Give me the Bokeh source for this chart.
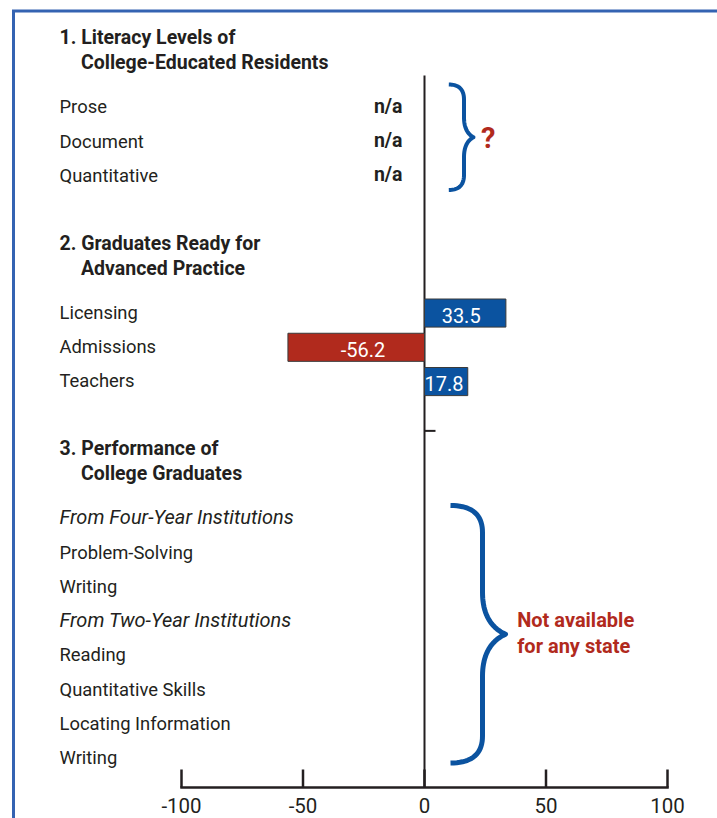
from bokeh.plotting import figure
from bokeh.models import Range1d, ColumnDataSource
from bokeh.core.properties import value
from bokeh.embed import file_html
from bokeh.resources import INLINE
import numpy as np

# ---------------- data ----------------
section_titles = [("1. Literacy Levels of", "College-Educated Residents"),
                  ("2. Graduates Ready for", "Advanced Practice"),
                  ("3. Performance of", "College Graduates")]
literacy_labels = ["Prose", "Document", "Quantitative"]
literacy_values = ["n/a", "n/a", "n/a"]
ready_labels = ["Licensing", "Admissions", "Teachers"]
ready_values = [33.5, -56.2, 17.8]
perf_labels = ["From Four-Year Institutions", "Problem-Solving", "Writing",
               "From Two-Year Institutions", "Reading", "Quantitative Skills",
               "Locating Information", "Writing"]
perf_subheads = ["From Four-Year Institutions", "From Two-Year Institutions"]
x_ticks = [-100, -50, 0, 50, 100]
literacy_note = "?"
perf_note = ["Not available", "for any state"]

# ---------------- styling ----------------
FONT = "Roboto"
TXT = "#231f20"
BLUE = "#0b53a0"
RED = "#b12a1d"
BORDER = "#3463b2"
FS = 19.5   # titles / values
FL = 18.4   # row labels

W, H = 717, 818
PXU = 2.43          # pixels per value unit
ROWPX = 34.25       # pixels per row


def X(px):  # image pixel -> value units (decoration only)
    return (px - 424) / PXU


def Y(py):  # image pixel -> row units (decoration only)
    return (py - 105) / ROWPX


def sh(size):  # baseline correction in row units
    return 0.38 * size / ROWPX


# rows: title, gap, items..., gap, title ...
row = -2
title_rows = []
title_rows.append(row); row += 2
lit_rows = list(range(row, row + len(literacy_labels))); row += len(literacy_labels) + 1
title_rows.append(row); row += 2
ready_rows = list(range(row, row + len(ready_labels))); row += len(ready_labels) + 1
title_rows.append(row); row += 2
perf_rows = list(range(row, row + len(perf_labels)))

p = figure(width=W, height=H, output_backend="svg", toolbar_location=None,
           x_range=Range1d(X(0), X(W)), y_range=Range1d(Y(H), Y(0)),
           x_axis_location=None, y_axis_location=None, min_border=0,
           outline_line_color=None, background_fill_color="white")
p.grid.visible = False

BASE = 0.245
LX = X(59)
LX2 = X(80.5)


def txt(xs, ys, texts, size=FS, style="normal", color=TXT, align="left"):
    p.text(x=list(xs), y=[y - sh(size) for y in ys], text=list(texts), text_font=value(FONT),
           text_font_size="%.1fpx" % size, text_font_style=style, text_color=color,
           text_align=align, text_baseline="alphabetic")


# border (top + left)
p.line([X(730), X(13), X(13)], [Y(10.5), Y(10.5), Y(840)], line_color=BORDER,
       line_width=3, line_join="miter")

# titles
for r, (t1, t2) in zip(title_rows, section_titles):
    txt([LX], [r + BASE], [t1], style="bold")
    txt([LX2], [r + BASE + 0.73], [t2], style="bold")

# labels
txt([LX] * len(lit_rows), [r + BASE for r in lit_rows], literacy_labels, size=FL)
txt([LX] * len(ready_rows), [r + BASE for r in ready_rows], ready_labels, size=FL)
norm = [(r, l) for r, l in zip(perf_rows, perf_labels) if l not in perf_subheads]
sub = [(r, l) for r, l in zip(perf_rows, perf_labels) if l in perf_subheads]
txt([LX] * len(norm), [r + BASE for r, _ in norm], [l for _, l in norm], size=FL)
txt([LX] * len(sub), [r + BASE for r, _ in sub], [l for _, l in sub], size=20, style="italic")

# n/a values
txt([X(402)] * len(lit_rows), [r + BASE for r in lit_rows], literacy_values,
    style="bold", align="right")

# zero line
p.segment(x0=[0], y0=[Y(75)], x1=[0], y1=[Y(787)], line_color=TXT, line_width=2)
p.segment(x0=[0], y0=[ready_rows[-1] + 1.5], x1=[X(435)], y1=[ready_rows[-1] + 1.5],
          line_color=TXT, line_width=2)

# bars
src = ColumnDataSource(dict(
    y=[r + 0.06 for r in ready_rows],
    left=[min(0, v) for v in ready_values],
    right=[max(0, v) for v in ready_values],
    color=[BLUE if v >= 0 else RED for v in ready_values],
))
p.hbar(y="y", left="left", right="right", height=0.82, fill_color="color",
       line_color="#3a3a3a", line_width=1, source=src)
txt([v * 0.45 for v in ready_values], [r + 0.06 + 0.28 for r in ready_rows],
    ["%.1f" % v for v in ready_values], size=20, color="white", align="center")

# x axis
p.segment(x0=[x_ticks[0]], y0=[Y(787)], x1=[x_ticks[-1]], y1=[Y(787)], line_color=TXT,
          line_width=2.5, line_cap="square")
p.segment(x0=x_ticks, y0=[Y(769)] * len(x_ticks), x1=x_ticks, y1=[Y(787)] * len(x_ticks),
          line_color=TXT, line_width=2.5)
txt(x_ticks, [Y(812.5)] * len(x_ticks), [str(t) for t in x_ticks], size=20.5, align="center")


# braces
def qbez(p0, c, p1, n=20):
    t = np.linspace(0, 1, n)[:, None]
    return (1 - t) ** 2 * np.array(p0) + 2 * (1 - t) * t * np.array(c) + t ** 2 * np.array(p1)


def brace(xe, xv, xt, yt, yb, r1, r2, w):
    ym = (yt + yb) / 2
    pts = [qbez((xe, yt), (xv, yt), (xv, yt + r1)),
           qbez((xv, ym - r2), (xv, ym - r2 * 0.25), (xt, ym)),
           qbez((xt, ym), (xv, ym + r2 * 0.25), (xv, ym + r2)),
           qbez((xv, yb - r1), (xv, yb), (xe, yb))]
    a = np.vstack(pts)
    p.line(X(a[:, 0]), Y(a[:, 1]), line_color=BLUE, line_width=w, line_cap="butt",
           line_join="round")


brace(448.3, 463.5, 473, 84, 189.5, 15, 20, 4)
brace(450, 482, 505, 505, 762.5, 27, 42, 5)

txt([X(480.5)], [Y(148.3)], [literacy_note], size=29, style="bold", color=RED)
txt([X(516.7)] * 2, [Y(626.7), Y(653)], perf_note, size=20, style="bold", color=RED)

open("out.html", "w").write(file_html(p, INLINE))
